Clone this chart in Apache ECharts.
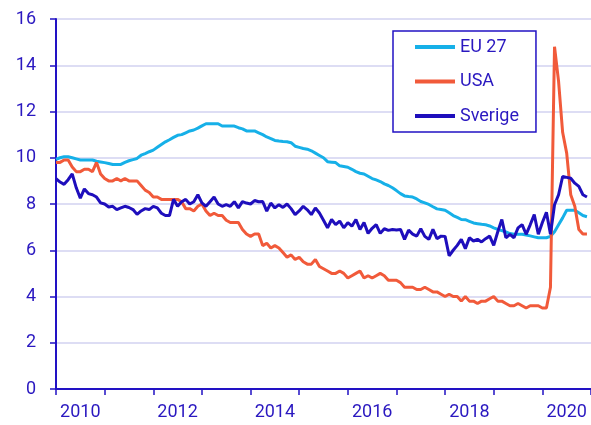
<!DOCTYPE html>
<html>
<head>
<meta charset="utf-8">
<script src="https://cdn.jsdelivr.net/npm/echarts@6/dist/echarts.min.js"></script>
<style>
  html, body { margin: 0; padding: 0; background: #fff; }
  #chart { width: 591px; height: 425px; }
</style>
</head>
<body>
<div id="chart"></div>
<script>
  // months since jan 2010, one value per month
  var years = ['2010', '2011', '2012', '2013', '2014', '2015', '2016', '2017', '2018', '2019', '2020']

  var eu27 = [
    9.93, 10.0, 10.04, 10.04, 10.0, 9.95, 9.9, 9.9, 9.9, 9.9, 9.85, 9.82,
    9.79, 9.75, 9.71, 9.71, 9.71, 9.8, 9.87, 9.92, 9.97, 10.11, 10.18, 10.26,
    10.33, 10.45, 10.57, 10.69, 10.78, 10.88, 10.97, 11.0, 11.08, 11.16, 11.2, 11.28,
    11.38, 11.47, 11.47, 11.47, 11.47, 11.37, 11.37, 11.37, 11.37, 11.3, 11.25, 11.16,
    11.16, 11.16, 11.08, 11.0, 10.9, 10.83, 10.75, 10.72, 10.7, 10.69, 10.65, 10.5,
    10.45, 10.4, 10.37, 10.3, 10.2, 10.1, 10.0, 9.83, 9.81, 9.79, 9.65, 9.62,
    9.59, 9.5, 9.4, 9.33, 9.3, 9.2, 9.1, 9.04, 8.97, 8.87, 8.8, 8.7,
    8.58, 8.45, 8.35, 8.32, 8.3, 8.22, 8.11, 8.05, 7.98, 7.88, 7.79, 7.76,
    7.73, 7.62, 7.5, 7.42, 7.33, 7.32, 7.25, 7.18, 7.15, 7.12, 7.1, 7.05,
    6.97, 6.9, 6.85, 6.79, 6.72, 6.69, 6.69, 6.69, 6.66, 6.62, 6.58, 6.54,
    6.54, 6.54, 6.6, 6.8, 7.1, 7.4, 7.73, 7.73, 7.73, 7.62, 7.5, 7.45
  ]

  var usa = [
    9.8, 9.8, 9.9, 9.9, 9.6, 9.4, 9.4, 9.5, 9.5, 9.4, 9.8, 9.3,
    9.1, 9.0, 9.0, 9.1, 9.0, 9.1, 9.0, 9.0, 9.0, 8.8, 8.6, 8.5,
    8.3, 8.3, 8.2, 8.2, 8.2, 8.2, 8.2, 8.1, 7.8, 7.8, 7.7, 7.9,
    8.0, 7.7, 7.5, 7.6, 7.5, 7.5, 7.3, 7.2, 7.2, 7.2, 6.9, 6.7,
    6.6, 6.7, 6.7, 6.2, 6.3, 6.1, 6.2, 6.1, 5.9, 5.7, 5.8, 5.6,
    5.7, 5.5, 5.4, 5.4, 5.6, 5.3, 5.2, 5.1, 5.0, 5.0, 5.1, 5.0,
    4.8, 4.9, 5.0, 5.1, 4.8, 4.9, 4.8, 4.9, 5.0, 4.9, 4.7, 4.7,
    4.7, 4.6, 4.4, 4.4, 4.4, 4.3, 4.3, 4.4, 4.3, 4.2, 4.2, 4.1,
    4.0, 4.1, 4.0, 4.0, 3.8, 4.0, 3.8, 3.8, 3.7, 3.8, 3.8, 3.9,
    4.0, 3.8, 3.8, 3.7, 3.6, 3.6, 3.7, 3.6, 3.5, 3.6, 3.6, 3.6,
    3.5, 3.5, 4.4, 14.8, 13.3, 11.1, 10.2, 8.4, 7.9, 6.9, 6.7, 6.7
  ]

  var sverige = [
    9.1, 8.95, 8.85, 9.05, 9.3, 8.7, 8.25, 8.65, 8.45, 8.4, 8.3, 8.05,
    8.0, 7.87, 7.9, 7.76, 7.83, 7.9, 7.85, 7.76, 7.55, 7.7, 7.8, 7.76,
    7.9, 7.83, 7.6, 7.5, 7.5, 8.2, 7.9, 8.1, 8.2, 8.0, 8.1, 8.4,
    8.05, 7.9, 8.1, 8.3, 8.0, 7.9, 7.97, 7.9, 8.1, 7.83, 8.1, 8.04,
    8.0, 8.15, 8.1, 8.11, 7.69, 8.04, 7.83, 7.97, 7.85, 8.0, 7.8, 7.54,
    7.7, 7.9, 7.75, 7.54, 7.83, 7.61, 7.3, 6.97, 7.33, 7.11, 7.26, 6.97,
    7.19, 7.04, 7.33, 6.9, 7.2, 6.73, 6.95, 7.11, 6.73, 6.93, 6.86, 6.9,
    6.88, 6.9, 6.47, 6.87, 6.7, 6.61, 6.93, 6.6, 6.47, 6.9, 6.5, 6.61,
    6.6, 5.76, 6.0, 6.21, 6.47, 6.07, 6.54, 6.4, 6.47, 6.36, 6.5, 6.61,
    6.21, 6.8, 7.33, 6.54, 6.69, 6.54, 6.97, 7.11, 6.69, 7.1, 7.54, 6.69,
    7.2, 7.64, 6.69, 7.97, 8.4, 9.19, 9.15, 9.11, 8.9, 8.76, 8.4, 8.3
  ]

  var axisColor = '#2212c4'
  var textColor = '#2a18c0'

  function pairs(arr) {
    return arr.map(function (v, i) { return [i, v] })
  }

  var myChart = echarts.init(document.getElementById('chart'))

  var option = {
    animation: false,
    backgroundColor: '#ffffff',
    textStyle: { fontFamily: 'Roboto' },
    grid: {
      left: 56,
      top: 19,
      bottom: 36,
      width: 540
    },
    legend: {
      orient: 'vertical',
      left: 393,
      top: 31,
      padding: [6, 17, 6, 22],
      itemGap: 14.5,
      itemWidth: 40,
      itemHeight: 4,
      icon: 'rect',
      borderColor: axisColor,
      borderWidth: 1.5,
      borderRadius: 0,
      backgroundColor: '#ffffff',
      textStyle: { fontSize: 18, color: textColor, lineHeight: 20, fontFamily: 'Roboto' },
      data: ['EU 27', 'USA', 'Sverige']
    },
    xAxis: [
      {
        type: 'value',
        min: 0,
        max: 132,
        interval: 12,
        position: 'bottom',
        axisLine: { show: true, onZero: false, lineStyle: { color: axisColor, width: 2 } },
        axisTick: { show: true, length: 6, lineStyle: { color: axisColor, width: 1.5 } },
        axisLabel: { show: false },
        splitLine: { show: false }
      },
      {
        // year labels centred in each year
        type: 'category',
        data: years,
        boundaryGap: true,
        position: 'bottom',
        axisLine: { show: false },
        axisTick: { show: false },
        axisLabel: { interval: 1, fontSize: 18, color: textColor, margin: 14, fontFamily: 'Roboto' },
        splitLine: { show: false }
      }
    ],
    yAxis: {
      type: 'value',
      min: 0,
      max: 16,
      interval: 2,
      axisLine: { show: true, lineStyle: { color: axisColor, width: 2 } },
      axisTick: { show: true, length: 6, lineStyle: { color: axisColor, width: 1.5 } },
      axisLabel: { fontSize: 18, color: textColor, margin: 20, fontFamily: 'Roboto' },
      splitLine: { show: true, lineStyle: { color: '#d2d2f0', width: 1.5 } }
    },
    series: [
      {
        name: 'EU 27',
        type: 'line',
        xAxisIndex: 0,
        showSymbol: false,
        data: pairs(eu27),
        lineStyle: { color: '#16b0e8', width: 3 },
        itemStyle: { color: '#16b0e8' },
        z: 2
      },
      {
        name: 'USA',
        type: 'line',
        xAxisIndex: 0,
        showSymbol: false,
        data: pairs(usa),
        lineStyle: { color: '#f15a3a', width: 3 },
        itemStyle: { color: '#f15a3a' },
        z: 3
      },
      {
        name: 'Sverige',
        type: 'line',
        xAxisIndex: 0,
        showSymbol: false,
        data: pairs(sverige),
        lineStyle: { color: '#1e0ebc', width: 3 },
        itemStyle: { color: '#1e0ebc' },
        z: 4
      }
    ]
  }

  myChart.setOption(option)
</script>
</body>
</html>
